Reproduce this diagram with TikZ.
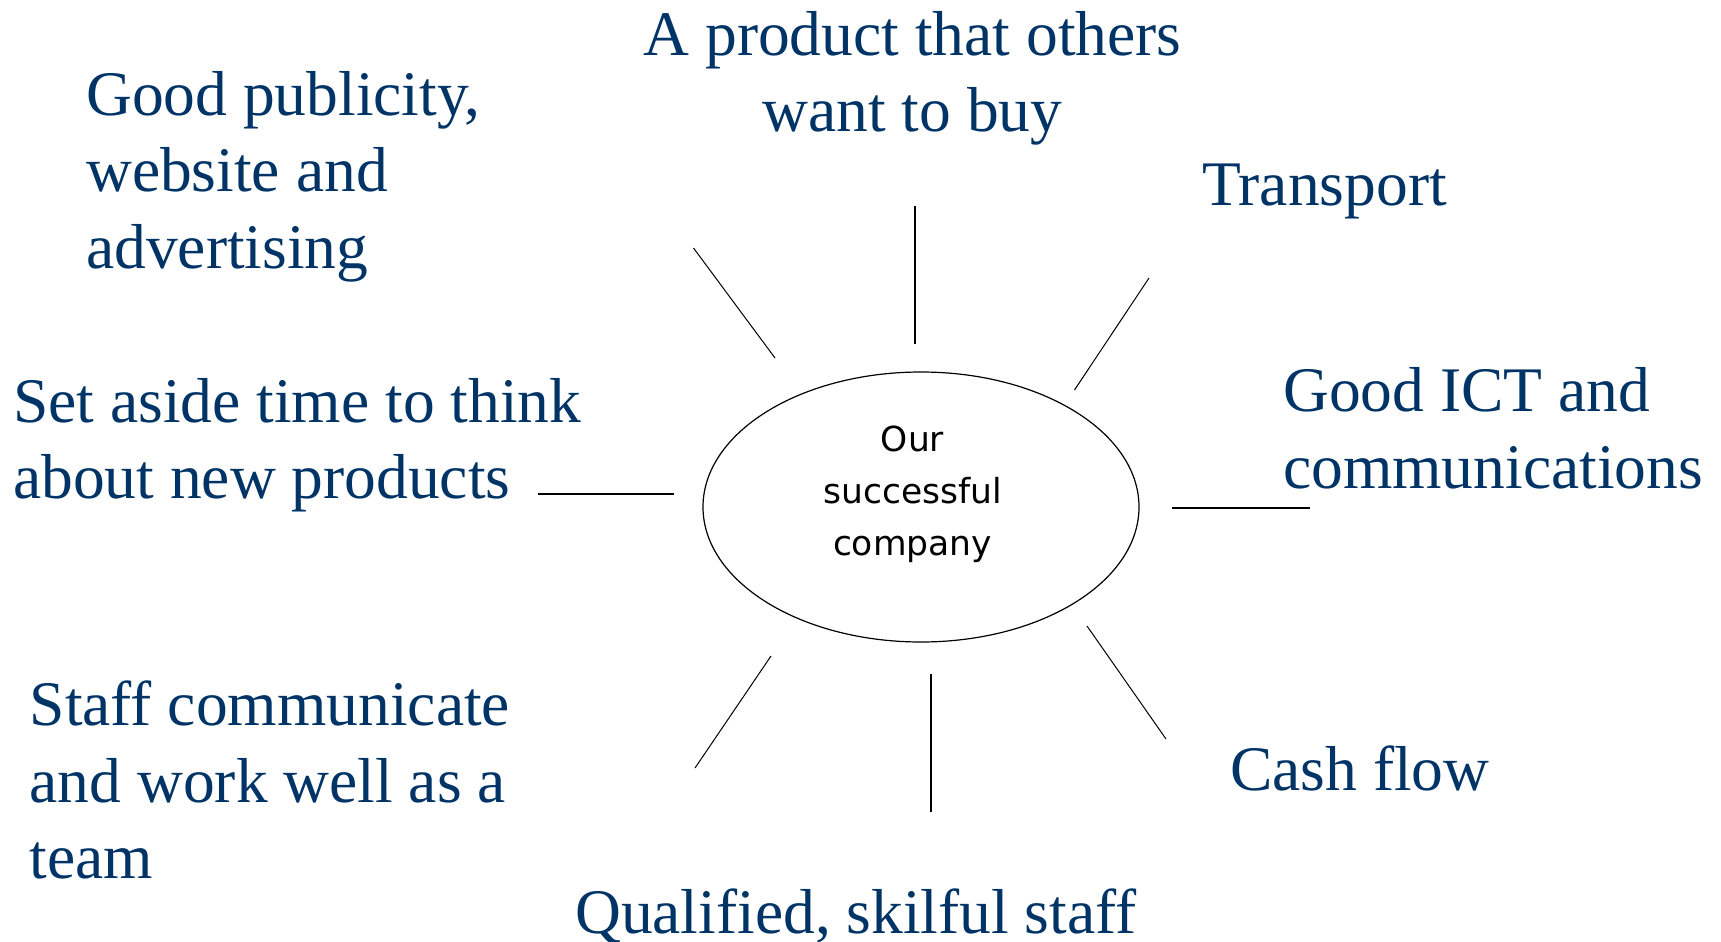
\documentclass[tikz,border=0pt]{standalone}
\usepackage{fontspec}
\setmainfont{Liberation Serif}
\newfontfamily\centerfont{DejaVu Sans}
\usetikzlibrary{shapes.geometric}
\definecolor{navy}{RGB}{0,51,102}
\begin{document}
\begin{tikzpicture}[x=1pt,y=-1pt,
  lbl/.style={text=navy, font=\fontsize{63.5}{76.5}\selectfont, inner sep=0pt, align=left, anchor=base west},
  thinray/.style={line width=1pt},
  thickray/.style={line width=2pt}]
\useasboundingbox (0,0) rectangle (1721,942);
\node[draw, ellipse, line width=1.2pt, minimum width=436pt, minimum height=270pt, inner sep=0pt] (hub) at (921,507) {};
% anchor=base of a multi-line node lies on its last line
\node[font=\centerfont\fontsize{34.5}{51.7}\selectfont, align=center, anchor=base, inner sep=0pt] (hubtext) at (912.5,555) {Our\\successful\\company};
\node[lbl] (pub) at (86,268) {Good publicity,\\website and\\advertising};
\node[lbl, align=center, anchor=base] (prod) at (912.5,131.5) {A product that others\\want to buy};
\node[lbl] (trans) at (1202,205) {Transport};
\node[lbl] (ict) at (1283,488.2) {Good ICT and\\communications};
\node[lbl] (think) at (13,498.5) {Set aside time to think\\about new products};
\node[lbl] (staff) at (29.6,878.5) {Staff communicate\\and work well as a\\team};
\node[lbl] (cash) at (1230,790) {Cash flow};
\node[lbl] (qual) at (575,933) {Qualified, skilful staff};
% rays
\coordinate (tla) at (693.5,248); \coordinate (tlb) at (775,358);
\coordinate (ta) at (915,206); \coordinate (tb) at (915,344);
\coordinate (tra) at (1149,278); \coordinate (trb) at (1074.5,390);
\coordinate (ra) at (1172,508); \coordinate (rb) at (1310,508);
\coordinate (bra) at (1087,626); \coordinate (brb) at (1166,739);
\coordinate (ba) at (931,674); \coordinate (bb) at (931,812);
\coordinate (bla) at (771,656); \coordinate (blb) at (695,768);
\coordinate (la) at (538,494); \coordinate (lb) at (674,494);
\draw[thinray] (tla) -- (tlb);
\draw[thickray] (ta) -- (tb);
\draw[thinray] (tra) -- (trb);
\draw[thickray] (ra) -- (rb);
\draw[thinray] (bra) -- (brb);
\draw[thickray] (ba) -- (bb);
\draw[thinray] (bla) -- (blb);
\draw[thickray] (la) -- (lb);
\end{tikzpicture}
\end{document}
